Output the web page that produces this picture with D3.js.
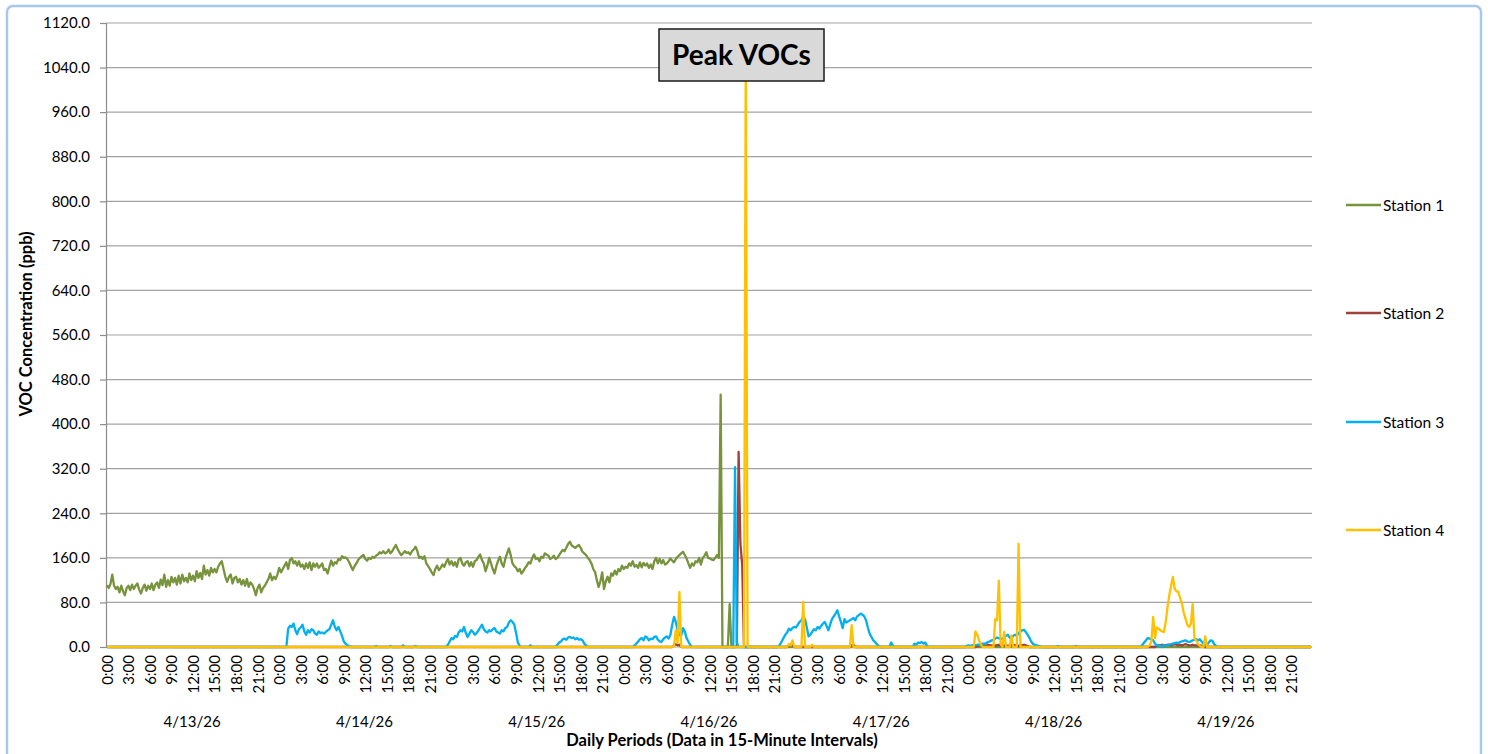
<!DOCTYPE html>
<html>
<head>
<meta charset="utf-8">
<script src="https://cdn.jsdelivr.net/npm/d3@7"></script>
<style>
  body { margin: 0; background: #fff; }
  svg text { font-family: Lato, "Open Sans", sans-serif; fill: #000; }
</style>
</head>
<body>
<div id="chart"></div>
<script>
// categories: 7 days of 15-minute readings
var days = ["4/13/26", "4/14/26", "4/15/26", "4/16/26", "4/17/26", "4/18/26", "4/19/26"];
var hourLabels = ["0:00", "3:00", "6:00", "9:00", "12:00", "15:00", "18:00", "21:00"];
var stepsPerDay = 96, stepsPerLabel = 12;
var yTicks = [0, 80, 160, 240, 320, 400, 480, 560, 640, 720, 800, 880, 960, 1040, 1120];
var seriesNames = ["Station 1", "Station 2", "Station 3", "Station 4"];
var seriesColors = ["#77933c", "#a0413c", "#00b0f0", "#ffc000"];

// readings as [first interval index, values...]; intervals not listed read 0.0
var station1Runs = [[0, [
  111, 106, 113, 130, 110, 104, 108, 98, 110, 100, 93, 106,
  110, 102, 112, 104, 110, 114, 103, 96, 106, 112, 101, 110,
  104, 114, 102, 112, 116, 106, 121, 111, 130, 108, 120, 110,
  126, 116, 124, 112, 128, 114, 130, 118, 124, 116, 132, 120,
  128, 118, 136, 124, 133, 122, 146, 130, 138, 128, 142, 134,
  140, 134, 144, 150, 154, 140, 126, 117, 126, 130, 114, 124,
  126, 116, 122, 112, 120, 110, 122, 108, 116, 112, 104, 93,
  106, 112, 98, 106, 110, 116, 122, 132, 120, 126, 122, 130,
  142, 134, 140, 146, 152, 140, 156, 160, 150, 154, 146, 154,
  144, 148, 140, 150, 142, 152, 138, 150, 144, 150, 142, 146,
  150, 138, 140, 132, 144, 155, 146, 152, 150, 158, 156, 163,
  160, 161, 158, 152, 145, 138, 145, 150, 156, 160, 163, 165,
  158, 155, 160, 158, 162, 160, 164, 166, 170, 168, 172, 168,
  170, 175, 168, 172, 178, 183, 176, 170, 165, 168, 172, 169,
  170, 166, 172, 175, 180, 172, 160, 162, 158, 163, 150, 145,
  140, 134, 129, 140, 146, 138, 142, 148, 144, 152, 158, 148,
  154, 146, 152, 144, 157, 160, 150, 146, 152, 154, 145, 152,
  144, 154, 156, 162, 166, 156, 150, 136, 146, 160, 150, 140,
  132, 145, 155, 162, 150, 144, 158, 168, 177, 165, 150, 145,
  142, 136, 140, 132, 136, 142, 146, 152, 150, 160, 166, 158,
  160, 154, 162, 160, 168, 166, 164, 158, 160, 164, 158, 160,
  165, 170, 174, 172, 178, 185, 189, 182, 180, 178, 181, 183,
  178, 171, 168, 165, 160, 156, 150, 140, 135, 120, 108, 118,
  134, 104, 118, 126, 116, 132, 128, 137, 130, 140, 136, 146,
  140, 144, 142, 150, 146, 154, 144, 147, 142, 152, 143, 151,
  146, 150, 142, 148, 140, 154, 160, 150, 158, 150, 156, 148,
  150, 154, 159, 155, 152, 158, 162, 165, 168, 171, 165, 159,
  150, 142, 150, 146, 154, 152, 160, 148, 160, 164, 170, 160,
  159, 157, 156, 160, 165, 160, 453, 0, 0, 0, 0, 77, 0
]]];

var station2Runs = [
  [315, [0, 3, 5, 3, 4, 0]],
  [351, [0, 350, 185, 148, 0]],
  [379, [0, 3, 4, 3, 0]],
  [414, [0, 3, 4, 0]],
  [484, [0, 2, 3, 3, 2, 3, 3, 4, 3, 3, 2, 3, 3, 4, 3, 4, 3, 3, 2, 3, 4, 4, 3, 3, 2, 3, 3, 4, 3, 2, 0]],
  [584, [0, 2, 3, 3, 4, 3, 3, 4, 4, 3, 4, 5, 4, 3, 4, 3, 4, 5, 4, 3, 3, 4, 3, 3, 2, 3, 2, 0]]
];

var station3Runs = [
  [100, [0, 33, 38, 36, 42, 30, 23, 32, 35, 40, 28, 22, 30, 26, 32, 30, 24, 22, 28, 25,
         26, 24, 27, 30, 32, 40, 48, 36, 30, 36, 28, 20, 10, 6, 3, 2, 0]],
  [149, [0, 2, 0]], [157, [0, 2, 0]], [164, [0, 3, 0]], [171, [0, 2, 0]],
  [189, [0, 4, 10, 16, 14, 20, 18, 26, 30, 28, 36, 25, 18, 24, 30, 27, 22, 25, 30, 35,
         40, 32, 28, 26, 30, 28, 32, 34, 28, 26, 24, 30, 28, 34, 36, 44, 48, 45, 40, 25, 8, 2, 0]],
  [235, [0, 3, 0]],
  [250, [0, 4, 8, 10, 14, 15, 13, 17, 18, 16, 17, 14, 16, 13, 14, 12, 6, 3, 0]],
  [293, [0, 3, 6, 10, 14, 16, 12, 19, 17, 12, 15, 14, 18, 19, 13, 10, 9, 14, 17, 19,
         15, 22, 40, 54, 45, 30, 22, 20, 34, 28, 16, 10, 4, 0]],
  [349, [0, 323, 8, 0]],
  [374, [0, 4, 10, 16, 22, 26, 33, 30, 34, 36, 35, 40, 45, 48, 54, 50, 35, 19, 22, 27,
         32, 30, 36, 33, 38, 42, 45, 38, 30, 40, 50, 55, 60, 66, 55, 45, 34, 50, 44, 46,
         48, 50, 52, 48, 55, 57, 60, 58, 55, 48, 35, 24, 18, 12, 9, 5, 2, 0]],
  [436, [0, 8, 2, 0]],
  [449, [0, 6, 4, 8, 7, 9, 6, 8, 2, 0]],
  [478, [0, 2, 3, 2, 3, 4, 3, 4, 4, 5, 6, 6, 7, 9, 10, 12, 13, 15, 17, 16,
         14, 15, 18, 20, 22, 17, 15, 20, 22, 20, 25, 28, 30, 31, 27, 22, 17, 10, 6, 4,
         3, 2, 1, 0]],
  [529, [0, 2, 0]], [539, [0, 2, 0]],
  [576, [0, 4, 8, 12, 16, 15, 14, 12, 6, 3, 2, 1, 2, 3, 2, 3, 4, 5, 6, 7,
         8, 7, 9, 10, 11, 12, 10, 9, 10, 12, 13, 14, 12, 14, 10, 5, 3, 4, 8, 12,
         11, 5, 2, 0]]
];

var station4Runs = [
  [315, [0, 3, 30, 8, 99, 0]],
  [355, [0, 1080, 0]],
  [379, [0, 5, 3, 12, 0, 0, 0, 0, 0, 81, 0, 0, 0, 0, 4, 0]],
  [414, [0, 39, 0]],
  [483, [0, 28, 22, 12, 4, 0, 0, 0, 0, 0, 0, 0, 50, 48, 119, 5, 0, 27, 0, 0,
         0, 21, 0, 0, 0, 185, 0]],
  [580, [0, 3, 10, 54, 16, 35, 33, 30, 28, 27, 45, 72, 93, 110, 126, 104, 100, 99, 88, 78,
         62, 51, 40, 36, 42, 77, 15, 12, 5, 2, 0, 0, 19, 0]]
];

var nSteps = days.length * stepsPerDay;

function expand(runs) {
  var a = new Array(nSteps).fill(0);
  runs.forEach(function(r) {
    r[1].forEach(function(v, k) { a[r[0] + k] = v; });
  });
  return a;
}

var series = [station1Runs, station2Runs, station3Runs, station4Runs].map(expand);

var W = 1488, H = 754;
var plot = {left: 106, right: 1312, top: 23, bottom: 647};

var svg = d3.select("#chart").append("svg")
    .attr("width", W)
    .attr("height", H);

svg.append("rect")
    .attr("x", 7).attr("y", 6)
    .attr("width", 1474).attr("height", 770)
    .attr("rx", 6)
    .attr("fill", "#fff")
    .attr("stroke", "#a7c7ee")
    .attr("stroke-width", 2.5);

var x = d3.scalePoint()
    .domain(d3.range(nSteps))
    .range([plot.left, plot.right])
    .padding(0.5);

var y = d3.scaleLinear()
    .domain([0, 1120])
    .range([plot.bottom, plot.top]);

// gridlines
svg.append("g")
    .selectAll("line")
    .data(yTicks)
  .enter().append("line")
    .attr("x1", plot.left).attr("x2", plot.right)
    .attr("y1", function(d) { return y(d); })
    .attr("y2", function(d) { return y(d); })
    .attr("stroke", "#a3a3a3")
    .attr("stroke-width", 1.2);

// y axis
var yAxis = svg.append("g")
    .attr("transform", "translate(" + plot.left + ",0)")
    .call(d3.axisLeft(y)
      .tickValues(yTicks)
      .tickFormat(d3.format(".1f"))
      .tickSize(6)
      .tickPadding(10));
yAxis.select(".domain").attr("stroke", "#8c8c8c").attr("stroke-width", 1.2);
yAxis.selectAll(".tick line").attr("stroke", "#8c8c8c").attr("stroke-width", 1.2);
yAxis.selectAll("text").style("font-size", "15px");

// x axis: hour labels every 3 hours
var xAxis = svg.append("g")
    .attr("transform", "translate(0," + plot.bottom + ")")
    .call(d3.axisBottom(x)
      .tickValues(d3.range(0, nSteps, stepsPerLabel))
      .tickFormat(function(i) { return hourLabels[(i % stepsPerDay) / stepsPerLabel]; })
      .tickSize(0));
xAxis.select(".domain").remove();
xAxis.selectAll("text")
    .style("font-size", "15px")
    .attr("text-anchor", "end")
    .attr("transform", "rotate(-90)")
    .attr("x", -8)
    .attr("y", 0)
    .attr("dy", "0.36em");

// day labels
svg.append("g")
    .selectAll("text")
    .data(days)
  .enter().append("text")
    .attr("x", function(d, i) { return (x(i * stepsPerDay) + x((i + 1) * stepsPerDay - 1)) / 2; })
    .attr("y", 727)
    .attr("text-anchor", "middle")
    .style("font-size", "15px")
    .text(function(d) { return d; });

// axis titles
svg.append("text")
    .attr("x", 722).attr("y", 746)
    .attr("text-anchor", "middle")
    .style("font-size", "16.5px")
    .style("font-weight", "bold")
    .text("Daily Periods (Data in 15-Minute Intervals)");

svg.append("text")
    .attr("transform", "translate(32,324) rotate(-90)")
    .attr("text-anchor", "middle")
    .style("font-size", "16.5px")
    .style("font-weight", "bold")
    .text("VOC Concentration (ppb)");

// lines
var line = d3.line()
    .x(function(d, i) { return x(i); })
    .y(function(d) { return y(d); });

svg.append("g")
    .selectAll("path")
    .data(series)
  .enter().append("path")
    .attr("d", line)
    .attr("fill", "none")
    .attr("stroke", function(d, i) { return seriesColors[i]; })
    .attr("stroke-width", 2.3)
    .attr("stroke-linejoin", "round");

// legend
var legendY = [205, 313, 422, 530];
var legend = svg.append("g")
    .selectAll("g")
    .data(seriesNames)
  .enter().append("g")
    .attr("transform", function(d, i) { return "translate(1346," + legendY[i] + ")"; });
legend.append("line")
    .attr("x1", 0).attr("x2", 35)
    .attr("stroke", function(d, i) { return seriesColors[i]; })
    .attr("stroke-width", 2.3);
legend.append("text")
    .attr("x", 37)
    .attr("dy", "0.36em")
    .style("font-size", "15.5px")
    .text(function(d) { return d; });

// callout
svg.append("rect")
    .attr("x", 659).attr("y", 29)
    .attr("width", 165).attr("height", 52)
    .attr("fill", "#d9d9d9")
    .attr("stroke", "#1a1a1a")
    .attr("stroke-width", 1.5);
svg.append("text")
    .attr("x", 741.5).attr("y", 55)
    .attr("dy", "0.36em")
    .attr("text-anchor", "middle")
    .style("font-size", "28px")
    .style("font-weight", "bold")
    .text("Peak VOCs");
</script>
</body>
</html>
